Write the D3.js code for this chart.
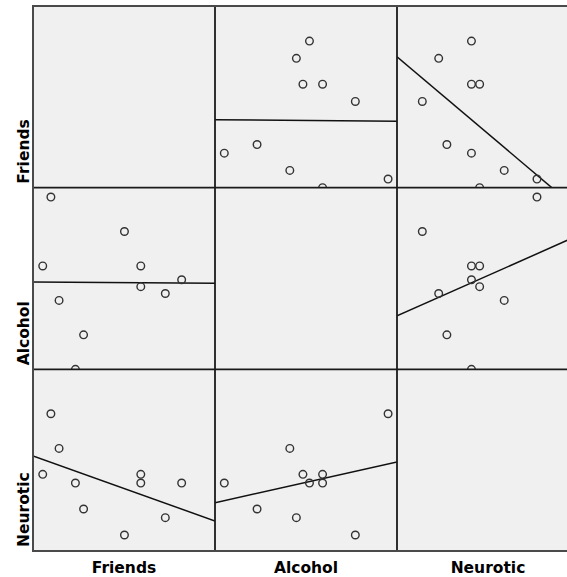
<!DOCTYPE html>
<html>
<head>
<meta charset="utf-8">
<script src="https://cdn.jsdelivr.net/npm/d3@7"></script>
<style>
  html, body { margin: 0; padding: 0; background: #ffffff; }
  svg { display: block; }
</style>
</head>
<body>
<div id="chart"></div>
<script>
// ---- data ----
const variables = ["Friends", "Alcohol", "Neurotic"];
const friends  = [17, 15, 12, 12, 10, 5, 4, 2, 0, 1];
const alcohol  = [13, 11, 12, 15, 20, 5, 0, 10, 15, 25];
const neurotic = [6, 2, 7, 6, 0, 3, 6, 10, 7, 14];
const seriesValues = [friends, alcohol, neurotic];
// axis ranges used by the matrix (horizontal / vertical use)
const xDomains = [[-1.19, 21.08], [-1.42, 26.36], [-3.09, 19.13]];
const yDomains = [[0, 21.07], [0, 26.36], [-1.85, 19.13]];

// ---- layout ----
const W = 567, H = 577;
const gridLeft = 33, gridTop = 6, cellW = 182, cellH = 545 / 3;
const n = variables.length;

const svg = d3.select("#chart").append("svg")
  .attr("width", W).attr("height", H);
svg.append("rect").attr("width", W).attr("height", H).attr("fill", "#ffffff");

const defs = svg.append("defs");

function regress(xs, ys) {
  const mx = d3.mean(xs), my = d3.mean(ys);
  let sxy = 0, sxx = 0;
  xs.forEach((x, k) => { sxy += (x - mx) * (ys[k] - my); sxx += (x - mx) * (x - mx); });
  const b = sxy / sxx;
  return { a: my - b * mx, b };
}

for (let i = 0; i < n; i++) {       // row -> y variable
  for (let j = 0; j < n; j++) {     // col -> x variable
    const x0 = gridLeft + j * cellW, y0 = gridTop + i * cellH;
    const id = `clip-${i}-${j}`;
    defs.append("clipPath").attr("id", id)
      .append("rect").attr("x", x0).attr("y", y0).attr("width", cellW).attr("height", cellH);
    const g = svg.append("g").attr("clip-path", `url(#${id})`);
    g.append("rect").attr("x", x0).attr("y", y0).attr("width", cellW).attr("height", cellH)
      .attr("fill", "#f0f0f0");
    if (i === j) continue;
    const xs = seriesValues[j], ys = seriesValues[i];
    const sx = d3.scaleLinear().domain(xDomains[j]).range([x0, x0 + cellW]);
    const sy = d3.scaleLinear().domain(yDomains[i]).range([y0 + cellH, y0]);
    const fit = regress(xs, ys);
    const dom = xDomains[j];
    g.append("line")
      .attr("x1", sx(dom[0])).attr("y1", sy(fit.a + fit.b * dom[0]))
      .attr("x2", sx(dom[1])).attr("y2", sy(fit.a + fit.b * dom[1]))
      .attr("stroke", "#111").attr("stroke-width", 1.5);
    g.selectAll("circle.pt").data(xs.map((x, k) => [x, ys[k]])).enter()
      .append("circle").attr("class", "pt")
      .attr("cx", d => sx(d[0])).attr("cy", d => sy(d[1]))
      .attr("r", 3.8)
      .attr("fill", "none").attr("stroke", "#333").attr("stroke-width", 1.4);
  }
}

// grid lines
const gl = svg.append("g");
for (let k = 1; k < n; k++) {
  gl.append("line").attr("x1", gridLeft + k * cellW).attr("x2", gridLeft + k * cellW)
    .attr("y1", gridTop).attr("y2", gridTop + n * cellH)
    .attr("stroke", "#1a1a1a").attr("stroke-width", 1.8);
  gl.append("line").attr("x1", gridLeft).attr("x2", gridLeft + n * cellW)
    .attr("y1", gridTop + k * cellH).attr("y2", gridTop + k * cellH)
    .attr("stroke", "#1a1a1a").attr("stroke-width", 1.8);
}
gl.append("rect").attr("x", gridLeft).attr("y", gridTop)
  .attr("width", n * cellW).attr("height", n * cellH)
  .attr("fill", "none").attr("stroke", "#4a4a4a").attr("stroke-width", 2);

// labels
const font = "'DejaVu Sans', sans-serif";
variables.forEach((v, k) => {
  svg.append("text")
    .attr("x", gridLeft + k * cellW + cellW / 2).attr("y", 573)
    .attr("text-anchor", "middle")
    .attr("font-family", font).attr("font-weight", "bold").attr("font-size", 15.5)
    .attr("fill", "#000").text(v);
  const yb = gridTop + (k + 1) * cellH - 4;
  svg.append("text")
    .attr("transform", `translate(29,${yb}) rotate(-90)`)
    .attr("text-anchor", "start")
    .attr("font-family", font).attr("font-weight", "bold").attr("font-size", 15.5)
    .attr("fill", "#000").text(v);
});
</script>
</body>
</html>
